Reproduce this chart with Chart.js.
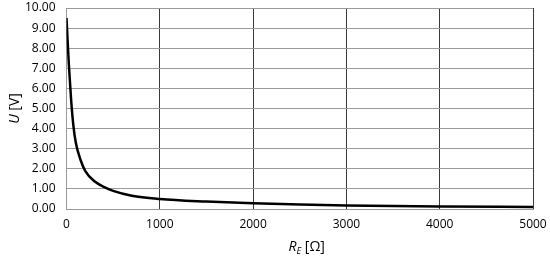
<!DOCTYPE html>
<html>
<head>
<meta charset="utf-8">
<script src="https://cdn.jsdelivr.net/npm/chart.js@4"></script>
<style>
  html, body { margin: 0; padding: 0; background: #fff; }
  #wrap { width: 550px; height: 259px; }
</style>
</head>
<body>
<div id="wrap"><canvas id="chart" width="550" height="259"></canvas></div>
<script>
const resistance = [0, 25, 50, 75, 100, 150, 200, 300, 400, 500, 700, 1000, 1500, 2000, 2500, 3000, 4000, 5000];
const voltage = [9.5, 7.2, 5.4, 4.1, 3.3, 2.45, 1.9, 1.38, 1.1, 0.9, 0.66, 0.5, 0.37, 0.28, 0.22, 0.18, 0.13, 0.1];
const xTicks = [0, 1000, 2000, 3000, 4000, 5000];
const yTicks = [0, 1, 2, 3, 4, 5, 6, 7, 8, 9, 10];

const FONT = "'Open Sans', sans-serif";

// axis titles need italic / subscript pieces, so draw them by hand
const axisTitles = {
    id: "axisTitles",
    afterDraw(chart) {
        const { ctx, chartArea: a } = chart;
        ctx.save();
        ctx.fillStyle = "#000";
        ctx.textBaseline = "middle";

        // x title: R_E [Ω]
        const cx = (a.left + a.right) / 2 + 7, cy = 247;
        const parts = [
            ["italic 14px " + FONT, "R", 0],
            ["italic 9px " + FONT, "E", 4],
            ["14px " + FONT, " [Ω]", 0]
        ];
        let total = 0;
        parts.forEach(([f, t]) => { ctx.font = f; total += ctx.measureText(t).width; });
        let x = cx - total / 2;
        ctx.textAlign = "left";
        parts.forEach(([f, t, dy]) => { ctx.font = f; ctx.fillText(t, x, cy + dy); x += ctx.measureText(t).width; });

        // y title: U [V]
        ctx.translate(15, (a.top + a.bottom) / 2);
        ctx.rotate(-Math.PI / 2);
        const yparts = [["italic 14px " + FONT, "U"], ["14px " + FONT, " [V]"]];
        total = 0;
        yparts.forEach(([f, t]) => { ctx.font = f; total += ctx.measureText(t).width; });
        x = -total / 2;
        yparts.forEach(([f, t]) => { ctx.font = f; ctx.fillText(t, x, 0); x += ctx.measureText(t).width; });
        ctx.restore();
    }
};

new Chart(document.getElementById("chart"), {
    type: "line",
    data: {
        datasets: [{
            data: resistance.map((r, i) => ({ x: r, y: voltage[i] })),
            borderColor: "#000",
            borderWidth: 2.5,
            pointRadius: 0,
            cubicInterpolationMode: "monotone",
            fill: false
        }]
    },
    options: {
        responsive: false,
        animation: false,
        layout: { padding: { top: 8, right: 17, left: 0, bottom: 0 } },
        plugins: { legend: { display: false }, tooltip: { enabled: false } },
        scales: {
            x: {
                type: "linear",
                min: 0, max: 5000,
                afterBuildTicks: s => { s.ticks = xTicks.map(v => ({ value: v })); },
                afterFit: s => { s.height = 50; s.paddingLeft = 0; s.paddingRight = 0; },
                grid: { color: "#3a3a3a", lineWidth: 1, drawTicks: false },
                border: { color: "#9a9a9a", width: 1 },
                ticks: { color: "#000", font: { family: FONT, size: 12 }, padding: 8, maxRotation: 0, callback: v => String(v) }
            },
            y: {
                min: 0, max: 10,
                afterBuildTicks: s => { s.ticks = yTicks.map(v => ({ value: v })); },
                afterFit: s => { s.width = 66.5; s.paddingTop = 0; s.paddingBottom = 0; },
                grid: { color: "#9a9a9a", lineWidth: 1, drawTicks: false },
                border: { color: "#9a9a9a", width: 1 },
                ticks: { color: "#000", font: { family: FONT, size: 12 }, padding: 11, callback: v => v.toFixed(2) }
            }
        }
    },
    plugins: [axisTitles]
});
</script>
</body>
</html>
